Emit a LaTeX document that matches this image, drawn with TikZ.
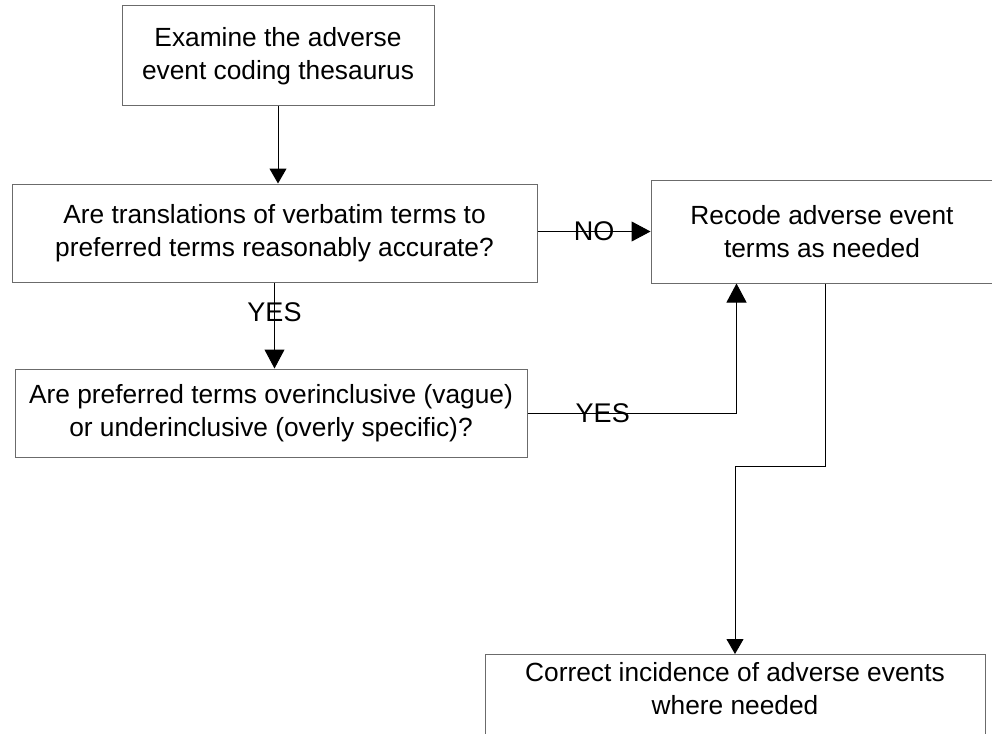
\documentclass[tikz,border=0pt]{standalone}
\usepackage{fontspec}
\setmainfont{Liberation Sans}
\usetikzlibrary{arrows.meta,calc}
\definecolor{boxline}{gray}{0.42}
\tikzset{
  box/.style={draw=boxline, line width=1pt, inner sep=0pt, align=center,
    font=\fontsize{26.3}{33}\selectfont},
  txt/.style={inner sep=0pt, align=center, font=\fontsize{26.3}{33}\selectfont},
  lbl/.style={inner sep=0pt, font=\fontsize{27}{30}\selectfont},
  link/.style={draw=black, line width=1pt},
  bighead/.style={-{Triangle[width=20pt,length=19pt]}},
  smallhead/.style={-{Triangle[width=17pt,length=15pt]}}
}
\begin{document}
\begin{tikzpicture}[x=1pt,y=-1pt]
\useasboundingbox (0,0) rectangle (992,733);
\clip (0,0) rectangle (992,733);

% process and decision boxes
\node[box, minimum width=312pt, minimum height=100pt] (exam) at (278,56)
  {Examine the adverse\\event coding thesaurus};
\node[box, minimum width=525pt, minimum height=98pt] (transl) at (274.5,233)
  {Are translations of verbatim terms to\\preferred terms reasonably accurate?};
\node[box, minimum width=342pt, minimum height=103pt] (recode) at (822,231.5)
  {Recode adverse event\\terms as needed};
\node[box, minimum width=512pt, minimum height=88pt] (decide) at (271,413)
  {Are preferred terms overinclusive (vague)\\or underinclusive (overly specific)?};
\node[box, minimum width=500pt, minimum height=140pt, anchor=north] (correct) at (735,654) {};
\node[txt] (correcttxt) at (735,689)
  {Correct incidence of adverse events\\where needed};

% connectors
\draw[link, smallhead] (exam.south) -- (exam.south |- transl.north);
\draw[link, bighead] (transl.east |- recode.west) -- (recode.west)
  node[lbl, midway] (nolbl) {NO};
\draw[link, bighead] (transl.south) -- (transl.south |- decide.north)
  node[lbl, pos=0.35] (yeslbl1) {YES};
\coordinate (upx) at ($(recode.south west)+(86,0)$);
\draw[link, bighead] (decide.east) -| (upx)
  node[lbl, pos=0.18] (yeslbl2) {YES};
\coordinate (outx) at ($(recode.south west)+(175,0)$);
\draw[link, smallhead] (outx) -- ++(0,183) -| (correct.north);
\end{tikzpicture}
\end{document}
